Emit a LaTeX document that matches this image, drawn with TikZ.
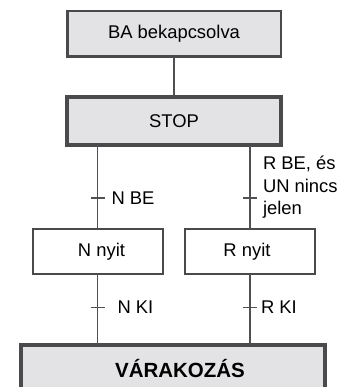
\documentclass[tikz,border=0pt]{standalone}
\usepackage{fontspec}
\setmainfont{Liberation Sans}
\definecolor{boxfill}{HTML}{E3E3E5}
\definecolor{boxline}{HTML}{4A4A4C}
\definecolor{wireline}{HTML}{505052}
\begin{document}
\begin{tikzpicture}[x=1pt,y=-1pt,
  every node/.style={inner sep=0pt, outer sep=0pt},
  grey/.style={draw=boxline, fill=boxfill, line width=2.5pt},
  heavy/.style={draw=boxline, fill=boxfill, line width=4pt},
  plain/.style={draw=boxline, fill=white, line width=2pt},
  wire/.style={draw=wireline, line width=1.4pt},
  txt/.style={font=\fontsize{18.4}{22.5}\selectfont},
  lbl/.style={font=\fontsize{18.4}{22.5}\selectfont, anchor=west, align=left}]
\clip (0,0) rectangle (346,387);
\fill[white] (0,0) rectangle (346,387);
\node[grey, minimum width=213.5pt, minimum height=45.5pt, txt] (ba) at (174,34) {BA bekapcsolva};
\node[heavy, minimum width=214pt, minimum height=48pt, txt] (stop) at (174,121) {STOP};
\node[plain, minimum width=130pt, minimum height=45pt, txt] (n) at (97.5,251.5) {\hspace*{8pt}N nyit};
\node[plain, minimum width=130pt, minimum height=45pt, txt] (r) at (250,251.5) {\hspace*{-6pt}R nyit};
\node[heavy, minimum width=304pt, minimum height=48pt, font=\fontsize{20.5}{24}\selectfont\bfseries] (var) at (173,369) {\hspace*{14pt}VÁRAKOZÁS};
% connectors
\draw[wire] (ba.south) -- (stop.north -| ba.south);
\draw[wire] (stop.south -| n.north) -- coordinate[pos=0.63] (t1) (n.north);
\draw[wire] (stop.south -| r.north) -- coordinate[pos=0.63] (t2) (r.north);
\draw[wire] (n.south) -- coordinate[pos=0.47] (t3) (var.north -| n.south);
\draw[wire] (r.south) -- coordinate[pos=0.47] (t4) (var.north -| r.south);
% ticks
\foreach \t in {t1,t2,t3,t4}{\draw[wire] ([xshift=-7pt]\t) -- ([xshift=7pt]\t);}
% labels
\node[lbl] (l1) at ([xshift=14pt]t1) {N BE};
\node[lbl] (l2) at ([xshift=13pt,yshift=10.5pt]t2) {R BE, és\\UN nincs\\jelen};
\node[lbl] (l3) at ([xshift=20pt]t3) {N KI};
\node[lbl] (l4) at ([xshift=11pt]t4) {R KI};
\end{tikzpicture}
\end{document}
